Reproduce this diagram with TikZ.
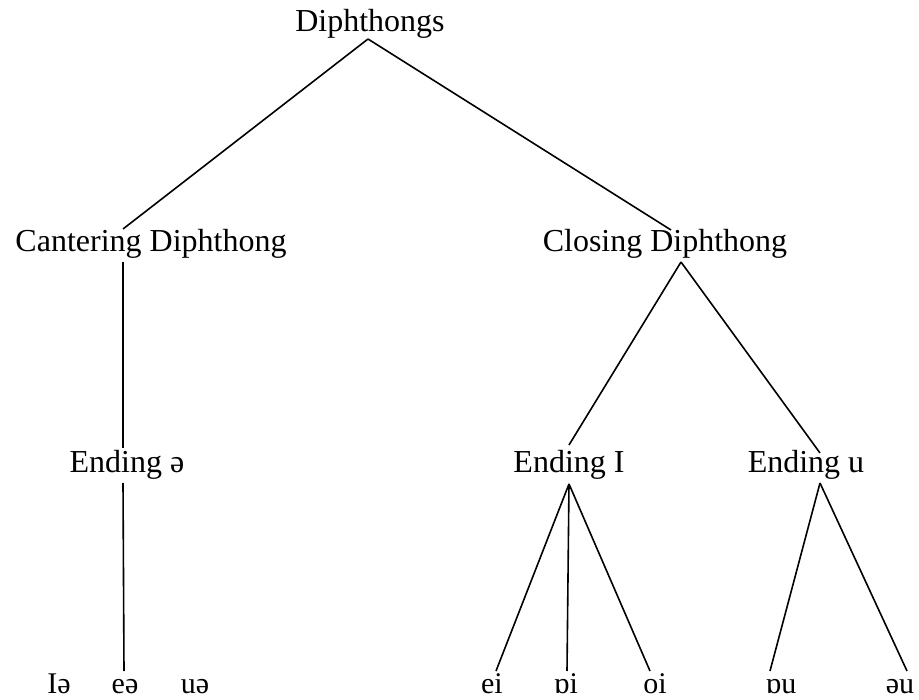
\documentclass[tikz,border=0pt]{standalone}
\usepackage{fontspec}
\setmainfont{Liberation Serif}
\begin{document}
\begin{tikzpicture}[x=1pt,y=-1pt,
  lbl/.style={anchor=base,inner sep=0pt,font=\fontsize{32}{38}\selectfont},
  leaf/.style={anchor=base,inner sep=0pt,font=\fontsize{30}{36}\selectfont},
  edge/.style={line width=1.6pt}]
\useasboundingbox (0,0) rectangle (919,700);
% text nodes
\node[lbl] (dip) at (370,32) {Diphthongs};
\node[lbl] (cant) at (151,252) {Cantering Diphthong};
\node[lbl] (clos) at (665,252) {Closing Diphthong};
\node[lbl] (endA) at (127,473) {Ending ə};
\node[lbl] (endI) at (569,473) {Ending I};
\node[lbl] (endU) at (806,473) {Ending u};
\node[leaf] (ia) at (59,693) {Iə};
\node[leaf] (ea) at (125,693) {eə};
\node[leaf] (ua) at (195,693) {uə};
\node[leaf] (ei) at (492,693) {ei};
\node[leaf] (oi1) at (566,693) {ɒi};
\node[leaf] (oi2) at (655,693) {oi};
\node[leaf] (ou1) at (781,693) {ɒu};
\node[leaf] (ou2) at (900,693) {əu};
% attachment points
\coordinate (dipB) at (368,39);
\coordinate (cantT) at (123,229);
\coordinate (cantB) at (123,262);
\coordinate (closT) at (671,230);
\coordinate (closB) at (681,262);
\coordinate (endAT) at (123,448);
\coordinate (endAB) at (123,483);
\coordinate (endIT) at (569,445);
\coordinate (endIB) at (569,484);
\coordinate (endUT) at (820,453);
\coordinate (endUB) at (820,483);
\coordinate (eaT) at (124,671);
\coordinate (eiT) at (496,671);
\coordinate (oi1T) at (567,671);
\coordinate (oi2T) at (650,671);
\coordinate (ou1T) at (770,671);
\coordinate (ou2T) at (907,671);
% connectors
\draw[edge] (dipB) -- (cantT);
\draw[edge] (dipB) -- (closT);
\draw[edge] (cantB) -- (endAT);
\draw[edge] (closB) -- (endIT);
\draw[edge] (closB) -- (endUT);
\draw[edge] (endAB) -- (eaT);
\draw[edge] (endIB) -- (eiT);
\draw[edge] (endIB) -- (oi1T);
\draw[edge] (endIB) -- (oi2T);
\draw[edge] (endUB) -- (ou1T);
\draw[edge] (endUB) -- (ou2T);
\end{tikzpicture}
\end{document}
